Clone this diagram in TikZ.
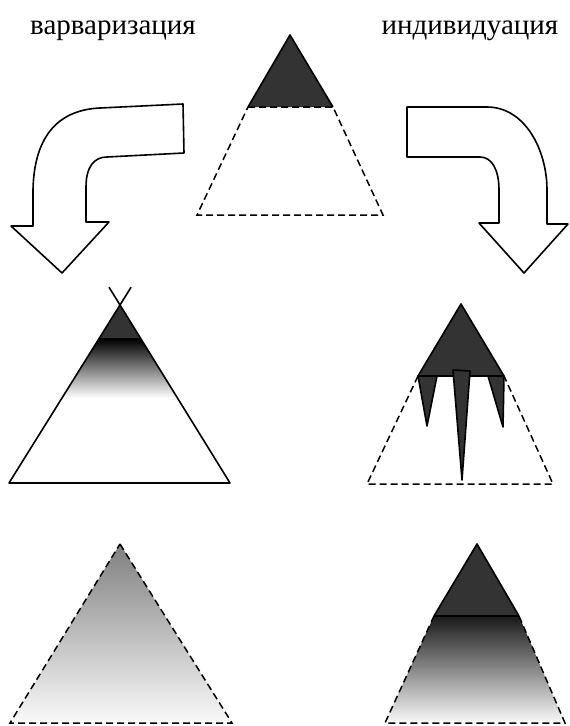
\documentclass[tikz,border=0pt]{standalone}
\usepackage{fontspec}
\setmainfont{Liberation Serif}
\usetikzlibrary{calc}
\begin{document}
\begin{tikzpicture}[x=1pt,y=-1pt,
  outl/.style={draw=black,line width=1.6pt,line join=round},
  dsh/.style={draw=black,line width=1.5pt,dash pattern=on 7pt off 4pt},
  darkf/.style={fill=black!80},
  lbl/.style={font=\fontsize{29}{31}\selectfont,inner sep=0pt,anchor=base}]
\useasboundingbox (0,0) rectangle (570,726);
% labels
\node[lbl] (barb) at (113,34) {варваризация};
\node[lbl] (indiv) at (470,34) {индивидуация};
% top triangle
\coordinate (tA) at (290,35);
\coordinate (tL) at (248,107);
\coordinate (tR) at (333,107);
\coordinate (tBL) at (197,215);
\coordinate (tBR) at (383,215);
\fill[darkf] (tA) -- (tL) -- (tR) -- cycle;
\draw[outl] (tL) -- (tA) -- (tR);
\draw[dsh] (tL) -- (tR) -- (tBR) -- (tBL) -- cycle;
% left arrow
\draw[outl,fill=white] (183,104) -- (100,108) .. controls (55,110) and (34,140) .. (33,190)
  -- (33,226) -- (11,226) -- (62,273) -- (109,222) -- (86,222) -- (86,187)
  .. controls (86,167) and (94,157) .. (107,157) -- (184,153) -- cycle;
% right arrow
\draw[outl,fill=white] (407,107) -- (487,107) .. controls (525,107) and (547,150) .. (547,190)
  -- (547,224) -- (568,224) -- (524,273) -- (479,223) -- (499,223) -- (499,190)
  .. controls (499,170) and (492,157) .. (480,157) -- (407,157) -- cycle;
% middle left triangle
\coordinate (mA) at (120,305);
\coordinate (mBL) at (9,483);
\coordinate (mBR) at (230,483);
\begin{scope}
  \clip (mA) -- (mBR) -- (mBL) -- cycle;
  \fill[darkf] (0,280) rectangle (240,339);
  \shade[top color=black,bottom color=white] (0,339) rectangle (240,398);
\end{scope}
\draw[line width=1.8pt] (99,339) -- (141,339);
\draw[outl] ($(mBL)!1.1!(mA)$) -- (mBL) -- (mBR) -- ($(mBR)!1.1!(mA)$);
% middle right
\coordinate (rA) at (461,304);
\coordinate (rL) at (418,376);
\coordinate (rR) at (504,376);
\coordinate (rBL) at (367,484);
\coordinate (rBR) at (553,484);
\draw[dsh] (rL) -- (rBL) -- (rBR) -- (rR);
\draw[outl,darkf] (rA) -- (rR) -- (rL) -- cycle;
\draw[outl,darkf] (418,376) -- (437,376) -- (427,426) -- cycle;
\draw[outl,darkf] (488,376) -- (504,376) -- (503,427) -- cycle;
\draw[outl,darkf] (453,370) -- (470,371) -- (462,480) -- cycle;
% bottom left
\coordinate (bA) at (120,544);
\coordinate (bBL) at (10,723);
\coordinate (bBR) at (232,723);
\shade[top color=black!50,bottom color=black!2] (bA) -- (bBR) -- (bBL) -- cycle;
\draw[dsh] (bA) -- (bBR) -- (bBL) -- cycle;
% bottom right
\coordinate (cA) at (477,544);
\coordinate (cL) at (434,616);
\coordinate (cR) at (519,616);
\coordinate (cBL) at (385,723);
\coordinate (cBR) at (565,723);
\shade[top color=black!90,bottom color=black!2] (cL) -- (cR) -- (cBR) -- (cBL) -- cycle;
\draw[dsh] (cL) -- (cBL) -- (cBR) -- (cR);
\draw[outl,darkf] (cA) -- (cR) -- (cL) -- cycle;
\end{tikzpicture}
\end{document}
